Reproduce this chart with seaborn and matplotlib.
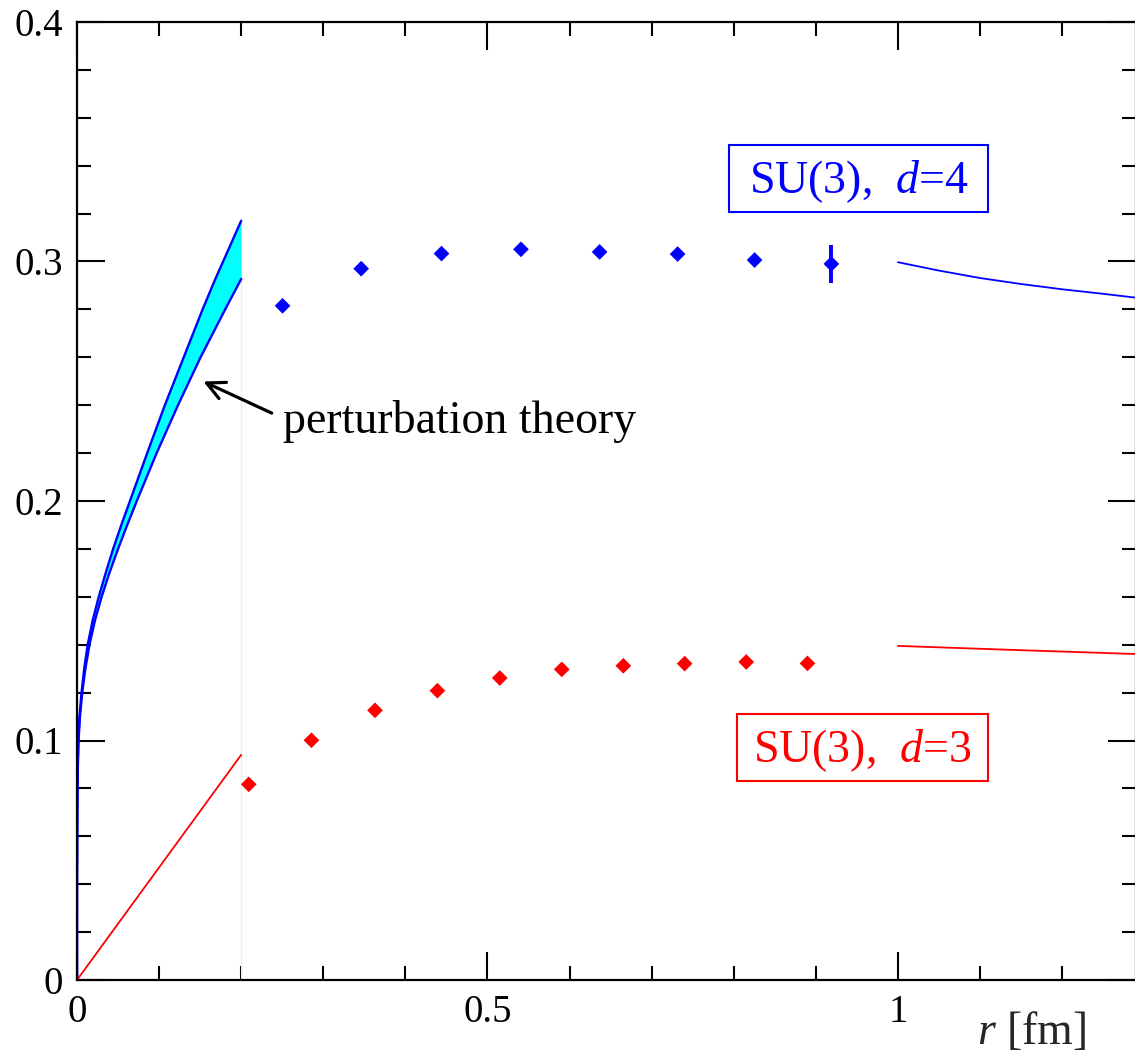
import numpy as np
import pandas as pd
import matplotlib
matplotlib.use("Agg")
import matplotlib.pyplot as plt
from matplotlib.ticker import MultipleLocator, FuncFormatter
from matplotlib.patches import Rectangle
import seaborn as sns

# ---------------- data ----------------
# lattice points, SU(3) d=4
r_d4 = [0.2504, 0.3462, 0.4440, 0.5408, 0.6366, 0.7316, 0.8254, 0.9189]
v_d4 = [0.2815, 0.2970, 0.3033, 0.3051, 0.3040, 0.3031, 0.3006, 0.2990]
err_d4 = [0.0, 0.0, 0.0, 0.0, 0.0, 0.0, 0.0, 0.0079]

# lattice points, SU(3) d=3
r_d3 = [0.2092, 0.2856, 0.3630, 0.4390, 0.5150, 0.5905, 0.6655, 0.7402, 0.8152, 0.8898]
v_d3 = [0.0817, 0.1001, 0.1126, 0.1208, 0.1261, 0.1297, 0.1312, 0.1321, 0.1328, 0.1322]

# perturbation theory band (d=4): y grid, left (upper) and right (lower) edge in r
band_y = [0.0, 0.04, 0.07, 0.09, 0.10, 0.11, 0.12, 0.13, 0.14, 0.15, 0.16, 0.17, 0.18, 0.19,
          0.20, 0.22, 0.24, 0.26, 0.28, 0.2927, 0.30, 0.317]
band_upper_r = [0.0, 0.00002, 0.0003, 0.0009, 0.0016, 0.0030, 0.0055, 0.0088, 0.0130, 0.0190,
                0.0265, 0.0350, 0.0440, 0.0540, 0.0645, 0.0855, 0.1070, 0.1300, 0.1530,
                0.1685, 0.1780, 0.2000]
band_lower_r = [0.0, 0.00003, 0.0004, 0.0011, 0.0019, 0.0036, 0.0064, 0.0102, 0.0152, 0.0218,
                0.0300, 0.0395, 0.0500, 0.0612, 0.0728, 0.0970, 0.1230, 0.1505, 0.1805,
                0.2000, 0.2000, 0.2000]
n_lower = 20  # lower edge curve ends at y = 0.2927

# perturbation theory, d=3
r_pt3 = [0.0, 0.2]
v_pt3 = [0.0, 0.094]

# large-r curves
r_far4 = [1.0, 1.05, 1.1, 1.15, 1.2, 1.25, 1.29]
v_far4 = [0.2997, 0.2962, 0.2931, 0.2906, 0.2884, 0.2865, 0.2849]
r_far3 = [1.0, 1.15, 1.29]
v_far3 = [0.1395, 0.1377, 0.1361]

BLUE = "#0000ff"
RED = "#ff0000"
CYAN = "#00ffff"

# ---------------- style ----------------
sns.set_style("ticks")
plt.rcParams["font.family"] = ["Liberation Serif", "DejaVu Serif"]
plt.rcParams["mathtext.fontset"] = "custom"
plt.rcParams["mathtext.rm"] = "Liberation Serif"
plt.rcParams["mathtext.it"] = "Liberation Serif:italic"

fig = plt.figure(figsize=(11.35, 10.55), dpi=100)
W, H = 1135, 1055
ax = fig.add_axes([77 / W, 75 / H, 1059 / W, 958 / H])
ax.set_xlim(0, 1.29)
ax.set_ylim(0, 0.4)

# band
ax.fill_betweenx(band_y, band_upper_r, band_lower_r, color=CYAN, lw=0, zorder=1)
ax.plot([0.2, 0.2], [0, 0.2927], color="#d6f7f7", lw=0.8, zorder=1)
sns.lineplot(x=band_upper_r, y=band_y, sort=False, estimator=None, color=BLUE, lw=1.7, ax=ax, zorder=2)
sns.lineplot(x=band_lower_r[:n_lower], y=band_y[:n_lower], sort=False, estimator=None, color=BLUE, lw=1.7, ax=ax, zorder=2)

sns.lineplot(x=r_pt3, y=v_pt3, sort=False, estimator=None, color=RED, lw=1.3, ax=ax)
sns.lineplot(x=r_far4, y=v_far4, sort=False, estimator=None, color=BLUE, lw=1.3, ax=ax)
sns.lineplot(x=r_far3, y=v_far3, sort=False, estimator=None, color=RED, lw=1.3, ax=ax)

# points
d4 = pd.DataFrame({"r": r_d4, "v": v_d4, "e": err_d4})
d3 = pd.DataFrame({"r": r_d3, "v": v_d3})
eb = d4[d4["e"] > 0]
ax.errorbar(eb["r"], eb["v"], yerr=eb["e"], fmt="none", ecolor=BLUE, elinewidth=2.8, capsize=0, zorder=3)
sns.scatterplot(data=d4, x="r", y="v", marker="D", s=64, color=BLUE, edgecolor="none", ax=ax, zorder=4)
sns.scatterplot(data=d3, x="r", y="v", marker="D", s=64, color=RED, edgecolor="none", ax=ax, zorder=4)

# labels with boxes
ax.add_patch(Rectangle((0.7942, 0.3207), 1.1096 - 0.7942, 0.3487 - 0.3207, fill=False, ec=BLUE, lw=1.5, zorder=5))
ax.text(0.9519, 0.3286, r"SU(3),  $d$=4", color=BLUE, fontsize=33, ha="center", va="baseline", zorder=5)
ax.add_patch(Rectangle((0.8035, 0.0831), 1.1093 - 0.8035, 0.1109 - 0.0831, fill=False, ec=RED, lw=1.5, zorder=5))
ax.text(0.9560, 0.0909, r"SU(3),  $d$=3", color=RED, fontsize=33, ha="center", va="baseline", zorder=5)

ax.text(0.2509, 0.2284, "perturbation theory", color="black", fontsize=33, ha="left", va="baseline")
ax.annotate("", xy=(0.1539, 0.2499), xytext=(0.2372, 0.2367),
            arrowprops=dict(arrowstyle="->", color="black", lw=2.3, mutation_scale=32,
                            shrinkA=0, shrinkB=0))

fig.text(1032 / W, 1 - 1033 / H, r"$r$ [fm]", fontsize=33, ha="center", va="center")

# axes, ticks
for s in ax.spines.values():
    s.set_linewidth(1.6)
    s.set_color("black")
ax.xaxis.set_major_locator(MultipleLocator(0.5))
ax.xaxis.set_minor_locator(MultipleLocator(0.1))
ax.yaxis.set_major_locator(MultipleLocator(0.1))
ax.yaxis.set_minor_locator(MultipleLocator(0.02))
fmt = FuncFormatter(lambda v, p: "%g" % round(v, 3))
ax.xaxis.set_major_formatter(fmt)
ax.yaxis.set_major_formatter(fmt)
ax.tick_params(which="both", direction="in", top=True, right=True, width=1.5, colors="black",
               labelsize=28)
ax.tick_params(which="major", length=20)
ax.tick_params(which="minor", length=10)
ax.tick_params(axis="x", which="major", pad=10)
ax.tick_params(axis="y", which="major", pad=10)
ax.set_xlabel("")
ax.set_ylabel("")

fig.savefig("out.png", dpi=100)
